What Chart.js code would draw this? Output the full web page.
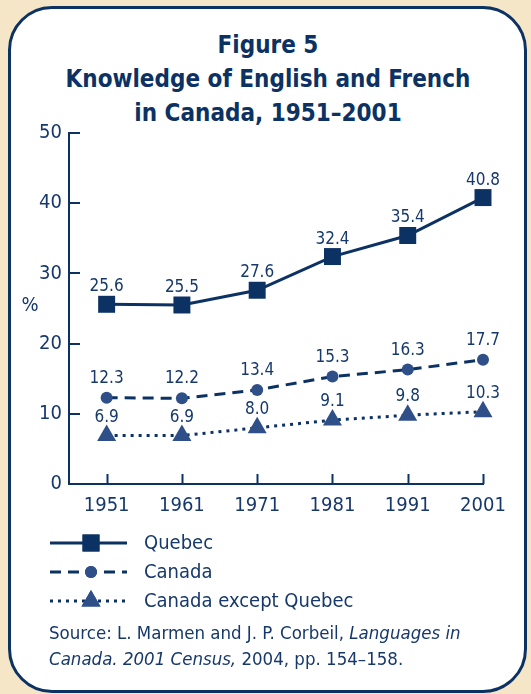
<!DOCTYPE html>
<html>
<head>
<meta charset="utf-8">
<script src="https://cdn.jsdelivr.net/npm/chart.js@4.4.1/dist/chart.umd.min.js"></script>
<style>
  html, body { margin: 0; padding: 0; background: #f5e6c8; }
  #wrap { position: relative; width: 531px; height: 694px; overflow: hidden; }
  #panel {
    position: absolute; left: 8px; top: 6px; width: 513px; height: 681px;
    background: #fff; border: 3px solid #0c3264; border-radius: 44px;
  }
  #title {
    position: absolute; left: 0; width: 536px; top: 28px; text-align: center;
    font: bold 24px "DejaVu Sans Condensed", sans-serif; color: #0c3264; line-height: 34px;
  }
  #source {
    position: absolute; left: 49px; top: 620px; width: 470px; white-space: nowrap;
    font: 18.5px "DejaVu Sans Condensed", sans-serif; color: #16386b; line-height: 26px;
  }
  canvas { position: absolute; left: 0; top: 0; }
</style>
</head>
<body>
<div id="wrap">
  <div id="panel"></div>
  <div id="title">Figure 5<br>Knowledge of English and French<br>in Canada, 1951–2001</div>
  <canvas id="chart" width="531" height="694"></canvas>
  <div id="source">Source: L. Marmen and J. P. Corbeil, <i>Languages in</i><br><i>Canada. 2001 Census,</i> 2004, pp. 154–158.</div>
</div>
<script>
const years = [1951, 1961, 1971, 1981, 1991, 2001];
const quebec = [25.6, 25.5, 27.6, 32.4, 35.4, 40.8];
const canada = [12.3, 12.2, 13.4, 15.3, 16.3, 17.7];
const canadaExQuebec = [6.9, 6.9, 8.0, 9.1, 9.8, 10.3];
const yTicks = [0, 10, 20, 30, 40, 50];

const navy = '#0c3264';
const mid = '#2f4f88';
const textCol = '#16386b';
const font = '"DejaVu Sans Condensed", sans-serif';

function pts(vals) {
    return vals.map((v, i) => ({ x: years[i], y: v }));
}

// labels above points, inner ticks, "%" and legend
const extras = {
    id: 'extras',
    afterDatasetsDraw(chart) {
        const ctx = chart.ctx;
        const xs = chart.scales.x, ys = chart.scales.y;
        ctx.save();
        ctx.strokeStyle = navy;
        ctx.lineWidth = 2;
        // inner ticks
        years.forEach(yr => {
            const px = Math.round(xs.getPixelForValue(yr)) + 0.5;
            ctx.beginPath();
            ctx.moveTo(px, ys.bottom);
            ctx.lineTo(px, ys.bottom - 10);
            ctx.stroke();
        });
        yTicks.forEach(t => {
            const py = Math.round(ys.getPixelForValue(t));
            ctx.beginPath();
            ctx.moveTo(xs.left, py);
            ctx.lineTo(xs.left + 11, py);
            ctx.stroke();
        });
        // value labels
        ctx.fillStyle = textCol;
        ctx.font = '17px ' + font;
        ctx.textAlign = 'center';
        ctx.textBaseline = 'alphabetic';
        const offs = [13, 15, 14];
        chart.data.datasets.forEach((ds, di) => {
            const meta = chart.getDatasetMeta(di);
            meta.data.forEach((el, i) => {
                ctx.fillText(ds.data[i].y.toFixed(1), el.x, el.y - offs[di]);
            });
        });
        // axis title
        ctx.font = '20px ' + font;
        ctx.fillText('%', 30, ys.getPixelForValue(25) + 2);
        // legend
        const rows = [543, 572, 601];
        chart.data.datasets.forEach((ds, di) => {
            const y = rows[di];
            ctx.strokeStyle = ds.borderColor;
            ctx.lineWidth = ds.borderWidth;
            ctx.setLineDash(ds.borderDash || []);
            ctx.beginPath();
            ctx.moveTo(50, y);
            ctx.lineTo(127, y);
            ctx.stroke();
            ctx.setLineDash([]);
            ctx.fillStyle = ds.pointBackgroundColor;
            Chart.helpers.drawPoint(ctx, { pointStyle: ds.pointStyle, radius: ds.pointRadius, rotation: 0, borderWidth: 0 }, 91, y);
            ctx.fill();
            ctx.fillStyle = textCol;
            ctx.font = '20px ' + font;
            ctx.textAlign = 'left';
            ctx.textBaseline = 'middle';
            ctx.fillText(ds.label, 144, y + 1);
        });
        ctx.restore();
    }
};

new Chart(document.getElementById('chart'), {
    type: 'line',
    data: {
        datasets: [
            {
                label: 'Quebec', data: pts(quebec), clip: false,
                borderColor: navy, borderWidth: 3, pointStyle: 'rect', pointRadius: 12,
                pointBackgroundColor: navy, pointBorderWidth: 0
            },
            {
                label: 'Canada', data: pts(canada), clip: false,
                borderColor: navy, borderWidth: 3, borderDash: [11, 7], pointStyle: 'circle', pointRadius: 6,
                pointBackgroundColor: mid, pointBorderWidth: 0
            },
            {
                label: 'Canada except Quebec', data: pts(canadaExQuebec), clip: false,
                borderColor: navy, borderWidth: 3, borderDash: [3, 5], pointStyle: 'triangle', pointRadius: 11,
                pointBackgroundColor: mid, pointBorderWidth: 0
            }
        ]
    },
    options: {
        responsive: false,
        animation: false,
        layout: { padding: { left: 0, top: 133, right: 48, bottom: 0 } },
        plugins: { legend: { display: false }, tooltip: { enabled: false } },
        scales: {
            x: {
                type: 'linear', min: 1946, max: 2001,
                afterBuildTicks: s => { s.ticks = years.map(v => ({ value: v })); },
                afterFit: s => { s.height = 210; },
                grid: { display: false, drawTicks: false },
                border: { display: true, color: navy, width: 2 },
                ticks: { color: textCol, font: { family: font, size: 20 }, padding: 10, callback: v => String(v), maxRotation: 0 }
            },
            y: {
                min: 0, max: 50,
                afterBuildTicks: s => { s.ticks = yTicks.map(v => ({ value: v })); },
                afterFit: s => { s.width = 69; },
                grid: { display: false, drawTicks: false },
                border: { display: true, color: navy, width: 2 },
                ticks: { color: textCol, font: { family: font, size: 20 }, padding: 7 }
            }
        }
    },
    plugins: [extras]
});
</script>
</body>
</html>
